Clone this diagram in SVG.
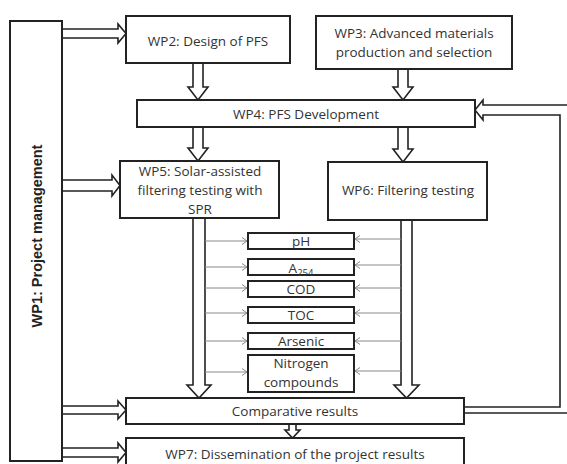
<svg xmlns="http://www.w3.org/2000/svg" width="567" height="464" viewBox="0 0 567 464">
<style>
.box{fill:#fff;stroke:#222;stroke-width:2}
.arr{fill:#fff;stroke:#222;stroke-width:1.6;stroke-linejoin:miter}
.ln{fill:none;stroke:#222;stroke-width:1.6}
.thin{fill:none;stroke:#888;stroke-width:1}
.t{font-family:"Open Sans","Liberation Sans",sans-serif;font-size:13.5px;fill:#333;text-anchor:middle}
.b{font-family:"Liberation Sans",Arial,sans-serif;font-size:14.5px;font-weight:bold;fill:#222;text-anchor:middle}
</style>
<defs>
<marker id="chev" markerWidth="8" markerHeight="8" refX="6" refY="4" orient="auto" markerUnits="userSpaceOnUse">
<polyline points="1,0.5 6,4 1,7.5" fill="none" stroke="#888" stroke-width="1"/>
</marker>
</defs>
<rect width="567" height="464" fill="#fff"/>
<g id="connectors">
<polygon class="arr" points="62,29 118,29 118,24 126,33.5 118,43 118,38 62,38"/>
<polygon class="arr" points="62,180 112,180 112,175 120,185.5 112,196 112,191 62,191"/>
<polygon class="arr" points="62,406 118,406 118,401 126,410 118,419 118,414 62,414"/>
<polygon class="arr" points="62,448 118,448 118,443 126,452.5 118,462 118,457 62,457"/>
<polygon class="arr" points="193,63 193,87 188,87 198,100 208,87 203,87 203,63"/>
<polygon class="arr" points="398,69 398,87 393,87 403,100 413,87 408,87 408,69"/>
<polygon class="arr" points="193,127 193,148 188,148 198,161 208,148 203,148 203,127"/>
<polygon class="arr" points="398,127 398,149 393,149 403,162 413,149 408,149 408,127"/>
<polygon class="arr" points="193,218 193,385 187,385 199,398 211,385 205,385 205,218"/>
<polygon class="arr" points="401,220 401,385 394,385 406.5,398 419,385 412,385 412,220"/>
<polygon class="arr" points="289,424 289,430 285,430 292.5,438 300,430 296,430 296,424"/>
<path class="ln" d="M464,407 H560 V115 H483 V120 L475,110 L483,100 V105 H570"/>
<path class="ln" d="M464,413 H570"/>
<line class="thin" x1="205" y1="241" x2="247" y2="241" marker-end="url(#chev)"/>
<line class="thin" x1="205" y1="267" x2="247" y2="267" marker-end="url(#chev)"/>
<line class="thin" x1="205" y1="288" x2="247" y2="288" marker-end="url(#chev)"/>
<line class="thin" x1="205" y1="313" x2="247" y2="313" marker-end="url(#chev)"/>
<line class="thin" x1="205" y1="341" x2="247" y2="341" marker-end="url(#chev)"/>
<line class="thin" x1="205" y1="372" x2="247" y2="372" marker-end="url(#chev)"/>
<line class="thin" x1="401" y1="239" x2="355" y2="239" marker-end="url(#chev)"/>
<line class="thin" x1="401" y1="265" x2="355" y2="265" marker-end="url(#chev)"/>
<line class="thin" x1="401" y1="288" x2="355" y2="288" marker-end="url(#chev)"/>
<line class="thin" x1="401" y1="313" x2="355" y2="313" marker-end="url(#chev)"/>
<line class="thin" x1="401" y1="341" x2="355" y2="341" marker-end="url(#chev)"/>
<line class="thin" x1="401" y1="371" x2="355" y2="371" marker-end="url(#chev)"/>
</g>
<g id="wp1"><rect class="box" x="10" y="21" width="52" height="440"/>
<text class="b" transform="translate(41.5,236) rotate(-90)">WP1: Project management</text></g>
<g id="wp2"><rect class="box" x="126" y="16" width="164" height="47"/>
<text class="t" x="208" y="45.5">WP2: Design of PFS</text></g>
<g id="wp3"><rect class="box" x="316" y="16" width="196" height="53"/>
<text class="t" x="414" y="38">WP3:  Advanced materials</text>
<text class="t" x="414" y="57">production and selection</text></g>
<g id="wp4"><rect class="box" x="137" y="100" width="338" height="27"/>
<text class="t" x="306" y="118.5">WP4: PFS Development</text></g>
<g id="wp5"><rect class="box" x="120" y="161" width="159" height="57"/>
<text class="t" x="200" y="176">WP5: Solar-assisted</text>
<text class="t" x="200" y="195">filtering testing with</text>
<text class="t" x="200" y="214">SPR</text></g>
<g id="wp6"><rect class="box" x="328" y="162" width="159" height="58"/>
<text class="t" x="408" y="195">WP6:  Filtering testing</text></g>
<g id="ph"><rect class="box" x="248" y="233" width="106" height="16"/>
<text class="t" x="301" y="246">pH</text></g>
<g id="a254"><rect class="box" x="248" y="259" width="106" height="16"/>
<text class="t" x="301" y="272.5">A<tspan font-size="9.5" dy="3">254</tspan></text></g>
<g id="cod"><rect class="box" x="248" y="281" width="106" height="16"/>
<text class="t" x="301" y="294">COD</text></g>
<g id="toc"><rect class="box" x="248" y="307" width="106" height="16"/>
<text class="t" x="301" y="320">TOC</text></g>
<g id="arsenic"><rect class="box" x="248" y="333" width="106" height="16"/>
<text class="t" x="301" y="346">Arsenic</text></g>
<g id="nitrogen"><rect class="box" x="248" y="355" width="106" height="37"/>
<text class="t" x="301" y="368">Nitrogen</text>
<text class="t" x="301" y="387">compounds</text></g>
<g id="comparative"><rect class="box" x="126" y="398" width="338" height="26"/>
<text class="t" x="295" y="416">Comparative results</text></g>
<g id="wp7"><rect class="box" x="126" y="438" width="338" height="30"/>
<text class="t" x="295" y="458.5">WP7: Dissemination of the project results</text></g>
</svg>
